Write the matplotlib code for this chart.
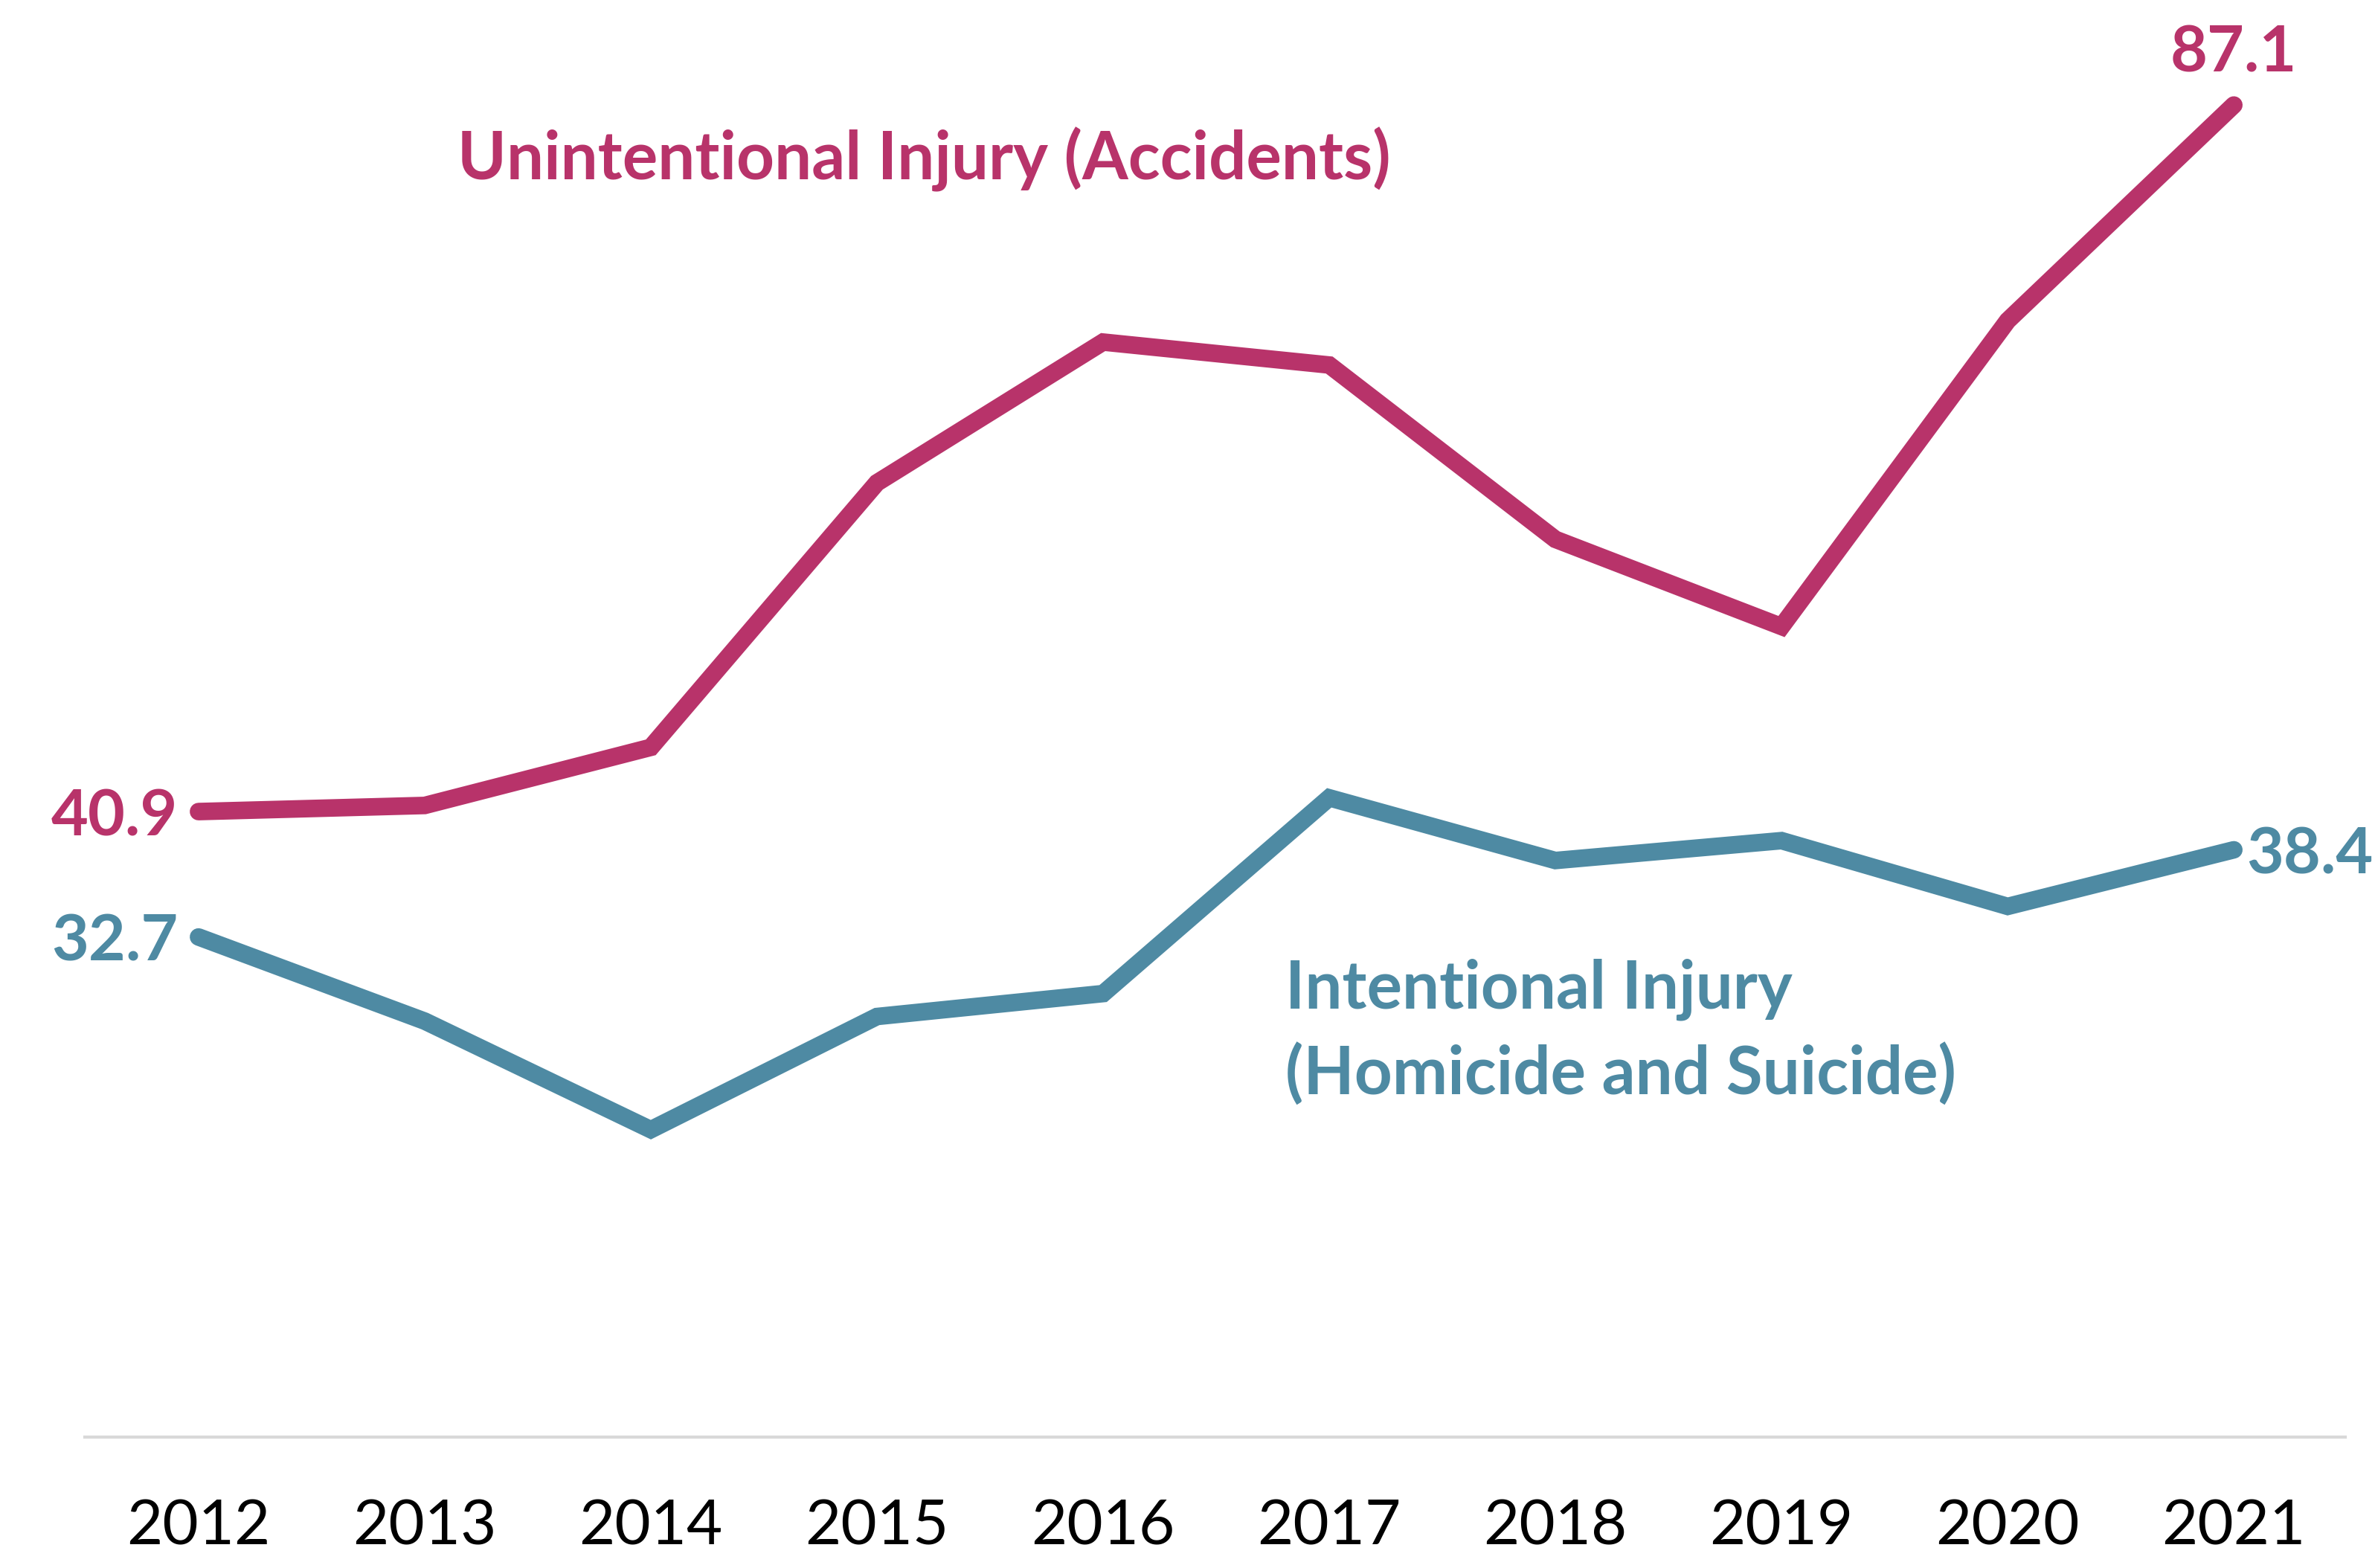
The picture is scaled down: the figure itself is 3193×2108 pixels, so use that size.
import matplotlib

matplotlib.use("Agg")
import matplotlib.pyplot as plt

# values
years = ["2012", "2013", "2014", "2015", "2016", "2017", "2018", "2019", "2020", "2021"]
unintentional = [40.9, 41.3, 45.1, 62.4, 71.6, 70.1, 58.7, 53.0, 73.0, 87.1]
intentional = [32.7, 27.2, 20.1, 27.5, 29.0, 41.8, 37.7, 39.0, 34.7, 38.4]

PINK = "#B8336A"
TEAL = "#4E8AA3"
FONT = "Lato"

plt.rcParams["font.family"] = [FONT, "DejaVu Sans"]

fig = plt.figure(figsize=(15.965, 10.54), dpi=200)
ax = fig.add_axes([0.0357, 0.0835, 0.9518, 0.8778])

x = list(range(len(years)))
ax.plot(x, unintentional, color=PINK, lw=8.5, solid_capstyle="round", solid_joinstyle="miter", clip_on=False)
ax.plot(x, intentional, color=TEAL, lw=8.5, solid_capstyle="round", solid_joinstyle="miter", clip_on=False)

ax.set_xlim(-0.503, 9.493)
ax.set_ylim(0, 90)
ax.set_xticks(x)
ax.set_xticklabels(years, fontsize=30)
ax.set_yticks([])
ax.tick_params(axis="x", length=0, pad=30)
for side in ["top", "left", "right"]:
    ax.spines[side].set_visible(False)
ax.spines["bottom"].set_color("#D9D9D9")
ax.spines["bottom"].set_linewidth(1.5)

# end labels
lab = dict(fontsize=31, fontweight="bold", textcoords="offset points")
ax.annotate(f"{unintentional[0]}", (x[0], unintentional[0]), xytext=(-10, 0),
            ha="right", va="center_baseline", color=PINK, **lab)
ax.annotate(f"{intentional[0]}", (x[0], intentional[0]), xytext=(-10, 0),
            ha="right", va="center_baseline", color=TEAL, **lab)
ax.annotate(f"{unintentional[-1]}", (x[-1], unintentional[-1]), xytext=(0, 16),
            ha="center", va="baseline", color=PINK, **lab)
# keep the right label just inside the figure edge
ax.annotate(f"{intentional[-1]}", (x[-1], intentional[-1]), xytext=(6, 0),
            ha="left", va="center_baseline", color=TEAL, annotation_clip=False, **lab)

# series names
ax.text(1.145, 82.2, "Unintentional Injury (Accidents)", color=PINK, fontsize=32,
        fontweight="bold", ha="left", va="baseline")
ax.text(4.806, 28.06, "Intentional Injury", color=TEAL, fontsize=32,
        fontweight="bold", ha="left", va="baseline")
ax.text(4.806, 22.4, "(Homicide and Suicide)", color=TEAL, fontsize=32,
        fontweight="bold", ha="left", va="baseline")

fig.savefig("out.png", dpi=200)
